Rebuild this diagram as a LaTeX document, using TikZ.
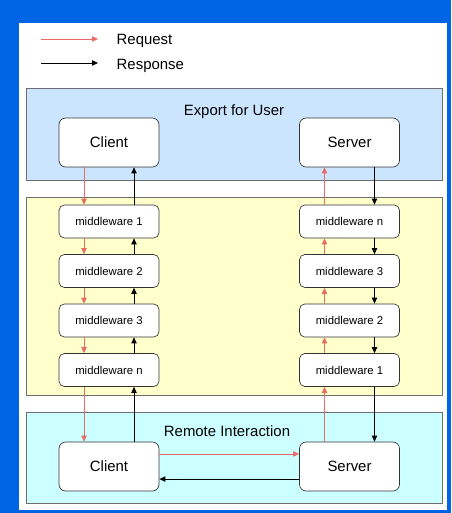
\documentclass[tikz,border=0pt]{standalone}
\usepackage{fontspec}
\setmainfont{Liberation Sans}
\usetikzlibrary{arrows.meta}

\definecolor{bgblue}{RGB}{0,101,229}
\definecolor{userblue}{RGB}{204,229,255}
\definecolor{mwyellow}{RGB}{255,255,204}
\definecolor{remcyan}{RGB}{204,255,255}
\definecolor{reqred}{RGB}{234,107,102}
\definecolor{edgegray}{RGB}{110,110,110}

\tikzset{
  panel/.style={draw=edgegray,line width=0.6pt},
  bigbox/.style={draw=black!80,fill=white,rounded corners=5pt,line width=0.5pt,
    minimum width=75pt,minimum height=36.75pt,font=\fontsize{11.2}{13}\selectfont},
  mwbox/.style={draw=black!80,fill=white,rounded corners=4pt,line width=0.5pt,
    minimum width=75pt,minimum height=24.75pt,font=\fontsize{8.5}{10}\selectfont},
  title/.style={font=\fontsize{11.2}{13}\selectfont},
  req/.style={draw=reqred,line width=0.6pt,-{Triangle[length=4.5pt,width=4pt]}},
  res/.style={draw=black,line width=0.6pt,-{Triangle[length=4.5pt,width=4pt]}}
}
\def\off{18.75pt}

\begin{document}
\begin{tikzpicture}[x=0.75pt,y=-0.75pt]
      \fill[bgblue] (0,0) rectangle (451,513) ;
      \fill[white] (19,23) rectangle (447,510) ;
      % legend
      \coordinate (rq1) at (41,39) ; \coordinate (rq2) at (98,39) ;
      \coordinate (rs1) at (41,63) ; \coordinate (rs2) at (98,63) ;
      \draw[req] (rq1) -- (rq2) ;
      \draw[res] (rs1) -- (rs2) ;
      \node[title,anchor=west] (lreq) at (112,40.5) {Request} ;
      \node[title,anchor=west] (lres) at (112,65.5) {Response} ;
      % panels
      \draw[panel,fill=userblue] (26,88) rectangle (442,180) ;
      \draw[panel,fill=mwyellow] (26,197) rectangle (442,395) ;
      \draw[panel,fill=remcyan] (26,412) rectangle (442,503) ;
      \node[title] (tuser) at (234,111.5) {Export for User} ;
      \node[title] (tremote) at (227,431.5) {Remote Interaction} ;
      % top
      \node[bigbox] (uc) at (109,142.5) {Client} ;
      \node[bigbox] (us) at (349.5,142.5) {Server} ;
      % middleware
      \node[mwbox] (c1) at (109,221.5) {middleware 1} ;
      \node[mwbox] (c2) at (109,271) {middleware 2} ;
      \node[mwbox] (c3) at (109,320.5) {middleware 3} ;
      \node[mwbox] (cn) at (109,370) {middleware n} ;
      \node[mwbox] (sn) at (349.5,221.5) {middleware n} ;
      \node[mwbox] (s3) at (349.5,271) {middleware 3} ;
      \node[mwbox] (s2) at (349.5,320.5) {middleware 2} ;
      \node[mwbox] (s1) at (349.5,370) {middleware 1} ;
      % bottom
      \node[bigbox] (rc) at (109,466.5) {Client} ;
      \node[bigbox] (rs) at (349.5,466.5) {Server} ;
      % client side
      \foreach \a/\b in {uc/c1,c1/c2,c2/c3,c3/cn,cn/rc}{
        \draw[req] ([xshift=-\off]\a.south) -- ([xshift=-\off]\b.north) ;
        \draw[res] ([xshift=\off]\b.north) -- ([xshift=\off]\a.south) ;
      }
      % server side
      \foreach \a/\b in {us/sn,sn/s3,s3/s2,s2/s1,s1/rs}{
        \draw[req] ([xshift=-\off]\b.north) -- ([xshift=-\off]\a.south) ;
        \draw[res] ([xshift=\off]\a.south) -- ([xshift=\off]\b.north) ;
      }
      \draw[req] ([yshift=9.4pt]rc.east) -- ([yshift=9.4pt]rs.west) ;
      \draw[res] ([yshift=-9.4pt]rs.west) -- ([yshift=-9.4pt]rc.east) ;
    \end{tikzpicture}
\end{document}
